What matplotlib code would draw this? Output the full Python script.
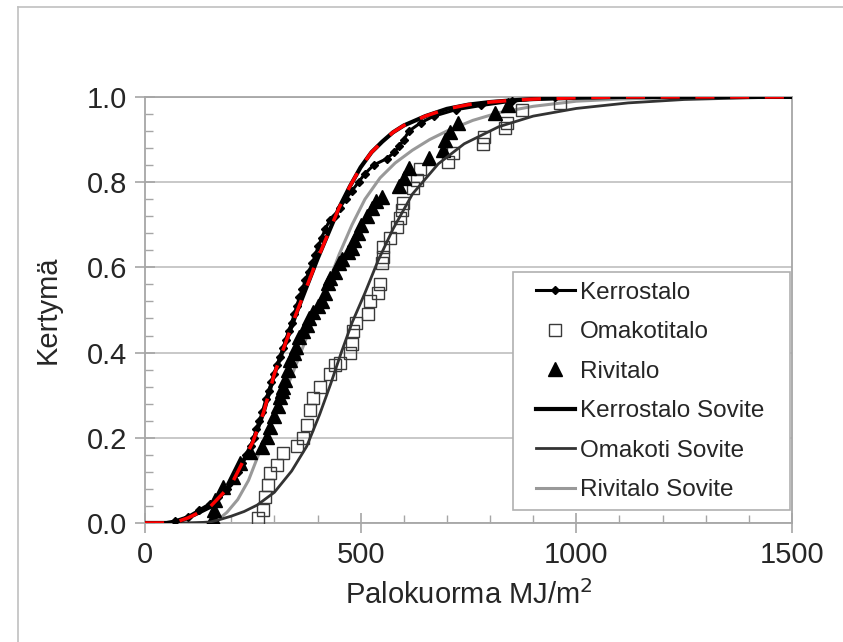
import matplotlib
matplotlib.use('Agg')
import matplotlib.pyplot as plt
from matplotlib.lines import Line2D
from matplotlib.patches import Rectangle
from matplotlib.ticker import MultipleLocator

plt.rcParams['font.family'] = ['Liberation Sans', 'DejaVu Sans']

# Kerrostalo observations (fire load MJ/m2, cumulative share)
kerros_x = [70, 100, 125, 150, 170, 190, 205, 215, 225, 235, 245, 252, 258, 265, 272, 280, 287, 293,
            300, 307, 313, 320, 326, 333, 340, 346, 352, 358, 365, 372, 380, 388, 395, 402, 410, 418,
            428, 440, 452, 465, 480, 495, 510, 530, 560, 578, 590, 600, 612, 640, 670, 720, 780, 850,
            950]
kerros_f = [0.005, 0.015, 0.03, 0.045, 0.06, 0.08, 0.10, 0.12, 0.14, 0.16, 0.18, 0.20, 0.22, 0.24, 0.26,
            0.29, 0.31, 0.33, 0.35, 0.37, 0.39, 0.41, 0.43, 0.45, 0.47, 0.49, 0.51, 0.53, 0.55, 0.57,
            0.59, 0.61, 0.63, 0.65, 0.67, 0.69, 0.71, 0.72, 0.74, 0.76, 0.78, 0.80, 0.82, 0.84, 0.855,
            0.87, 0.885, 0.90, 0.92, 0.94, 0.955, 0.97, 0.98, 0.99, 1.0]

# Omakotitalo observations
omakoti_x = [262, 274, 278, 285, 290, 306, 320, 352, 366, 375, 383, 390, 406, 429, 440, 452, 475, 480,
             482, 490, 517, 522, 540, 545, 549, 552, 552, 568, 584, 591, 596, 598, 621, 630, 638, 703,
             714, 784, 786, 835, 839, 874, 962]
omakoti_f = [0.012, 0.03, 0.06, 0.09, 0.117, 0.136, 0.164, 0.18, 0.20, 0.23, 0.265, 0.293, 0.32, 0.35,
             0.37, 0.375, 0.40, 0.42, 0.45, 0.47, 0.49, 0.52, 0.54, 0.56, 0.61, 0.625, 0.648, 0.67,
             0.695, 0.716, 0.735, 0.75, 0.786, 0.805, 0.83, 0.848, 0.868, 0.89, 0.906, 0.927, 0.94,
             0.97, 0.986]

# Rivitalo observations
rivi_x = [158, 160, 162, 181, 204, 220, 243, 271, 283, 290, 300, 308, 313, 318, 320, 325, 332, 336,
          345, 350, 358, 366, 375, 380, 390, 400, 410, 418, 424, 430, 440, 450, 457, 470, 480, 485,
          494, 500, 515, 527, 535, 549, 590, 600, 612, 658, 691, 696, 707, 726, 811, 842]
rivi_f = [0.012, 0.03, 0.054, 0.085, 0.108, 0.14, 0.166, 0.178, 0.202, 0.225, 0.25, 0.275, 0.296, 0.31,
          0.32, 0.336, 0.36, 0.383, 0.40, 0.413, 0.437, 0.45, 0.465, 0.48, 0.495, 0.51, 0.52, 0.54,
          0.563, 0.575, 0.59, 0.61, 0.62, 0.635, 0.645, 0.665, 0.68, 0.70, 0.72, 0.74, 0.755, 0.765,
          0.79, 0.81, 0.833, 0.857, 0.875, 0.90, 0.918, 0.94, 0.962, 0.981]

# fitted curves
kerros_fit_x = [0, 50, 80, 100, 150, 200, 250, 275, 300, 325, 350, 375, 400, 425, 450, 475, 500, 525,
                550, 575, 600, 650, 700, 750, 800, 850, 900, 1000, 1100, 1500]
kerros_fit_f = [0, 0, 0.005, 0.012, 0.037, 0.09, 0.19, 0.26, 0.35, 0.42, 0.49, 0.555, 0.62, 0.68, 0.74,
                0.79, 0.835, 0.87, 0.895, 0.917, 0.933, 0.955, 0.972, 0.982, 0.988, 0.992, 0.995,
                0.998, 1.0, 1.0]

omakoti_fit_x = [0, 100, 150, 170, 200, 230, 260, 300, 340, 375, 405, 430, 455, 480, 510, 540, 575,
                 620, 680, 740, 820, 900, 1000, 1120, 1250, 1400, 1500]
omakoti_fit_f = [0, 0, 0.002, 0.007, 0.016, 0.027, 0.042, 0.072, 0.122, 0.18, 0.255, 0.325, 0.40, 0.47,
                 0.54, 0.615, 0.69, 0.772, 0.843, 0.89, 0.93, 0.955, 0.973, 0.986, 0.994, 0.998, 1.0]

rivi_fit_x = [0, 120, 150, 170, 190, 215, 240, 265, 290, 315, 340, 365, 390, 420, 450, 480, 510, 545,
              580, 620, 660, 700, 760, 820, 900, 1000, 1100, 1250, 1500]
rivi_fit_f = [0, 0, 0.002, 0.008, 0.025, 0.055, 0.10, 0.165, 0.225, 0.285, 0.345, 0.41, 0.475, 0.55,
              0.63, 0.70, 0.76, 0.81, 0.845, 0.875, 0.90, 0.92, 0.945, 0.963, 0.978, 0.99, 0.995,
              0.999, 1.0]

fig = plt.figure(figsize=(8.43, 6.42), dpi=100)
ax = fig.add_axes([0.172, 0.1854, 0.7675, 0.6636])

# light frame round the chart
fig.add_artist(Line2D([18/843, 18/843], [0, 1 - 7/642], color='#c0c0c0', lw=1.2))
fig.add_artist(Line2D([18/843, 1], [1 - 7/642, 1 - 7/642], color='#c0c0c0', lw=1.2))

ax.plot(kerros_x, kerros_f, color='black', lw=2.2, marker='D', ms=4, label='Kerrostalo', zorder=4)
ax.plot(omakoti_x, omakoti_f, ls='none', marker='s', ms=9, mfc='none', mec='#3a3a3a', mew=1.0,
        label='Omakotitalo', zorder=3)
ax.plot(rivi_x, rivi_f, ls='none', marker='^', ms=9.5, color='black', label='Rivitalo', zorder=3)
ax.plot(kerros_fit_x, kerros_fit_f, color='black', lw=3, label='Kerrostalo Sovite', zorder=5)
ax.plot(omakoti_fit_x, omakoti_fit_f, color='#333333', lw=2, label='Omakoti Sovite', zorder=4)
ax.plot(rivi_fit_x, rivi_fit_f, color='#999999', lw=2.2, label='Rivitalo Sovite', zorder=2)
ax.plot(kerros_fit_x, kerros_fit_f, color='#ff0000', lw=2.5, dashes=(5.5, 4.5), zorder=6)

ax.set_xlim(0, 1500)
ax.set_ylim(0, 1.0)
ax.xaxis.set_major_locator(MultipleLocator(500))
ax.xaxis.set_minor_locator(MultipleLocator(100))
ax.yaxis.set_major_locator(MultipleLocator(0.2))
ax.yaxis.set_minor_locator(MultipleLocator(0.04))
ax.yaxis.set_major_formatter(plt.FormatStrFormatter('%.1f'))
ax.grid(axis='y', which='major', color='#c4c4c4', lw=1.3)
ax.set_axisbelow(True)

for s in ax.spines.values():
    s.set_color('#a6a6a6')
    s.set_linewidth(1.3)
ax.tick_params(which='major', direction='inout', length=14, width=1.2, color='#a6a6a6',
               labelsize=21, labelcolor='#262626', pad=6)
ax.tick_params(which='minor', direction='in', length=6, width=1.0, color='#a6a6a6')

ax.set_xlabel('Palokuorma MJ/m$^2$', fontsize=21, color='#262626', labelpad=8)
ax.set_ylabel('Kertymä', fontsize=21, color='#262626', labelpad=18)

# legend box drawn separately so it can be padded wider than the entries
box = Rectangle((0.569, 0.0305), 0.428, 0.5585, transform=ax.transAxes, facecolor='white',
                edgecolor='#b0b0b0', lw=1.2, zorder=7)
ax.add_patch(box)
leg = ax.legend(loc='upper left', bbox_to_anchor=(0.604, 0.566), fontsize=17.5, frameon=False,
                handlelength=1.6, handletextpad=0.2, labelspacing=0.72, borderpad=0,
                borderaxespad=0)
leg.set_zorder(8)
for t in leg.get_texts():
    t.set_color('#262626')

fig.savefig('out.png', dpi=100)
